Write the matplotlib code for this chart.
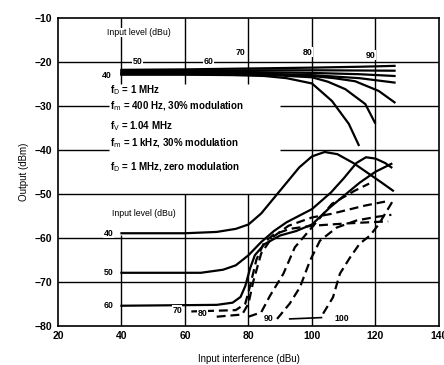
import matplotlib
matplotlib.use("Agg")
import matplotlib.pyplot as plt

plt.rcParams['font.family'] = ['Liberation Sans', 'DejaVu Sans']

# ---------------- data ----------------
x_ticks = [20, 40, 60, 80, 100, 120, 140]
y_ticks = [-10, -20, -30, -40, -50, -60, -70, -80]

# upper group (solid) : output vs interference
top_x1 = [40, 60, 80, 100, 115, 126]
top_y1 = [-21.8, -21.7, -21.5, -21.3, -21.1, -20.9]
top_x2 = [40, 60, 80, 100, 115, 126]
top_y2 = [-22.0, -22.0, -21.9, -21.9, -21.95, -22.0]
top_x3 = [40, 60, 80, 100, 115, 126]
top_y3 = [-22.3, -22.3, -22.3, -22.5, -22.8, -23.2]
top_x4 = [40, 60, 80, 100, 115, 126]
top_y4 = [-22.5, -22.5, -22.6, -23.0, -23.7, -24.7]
top_x5 = [40, 60, 80, 90, 100, 107, 113.6, 121, 126]
top_y5 = [-22.7, -22.7, -22.8, -22.9, -23.2, -23.7, -24.4, -26.6, -29.2]
top_x6 = [40, 60, 80, 90, 100, 105, 110.5, 116.8, 119.8]
top_y6 = [-22.8, -22.8, -22.9, -23.1, -23.5, -24.5, -26.2, -29.6, -33.8]
top_x7 = [40, 60, 75, 85, 92, 100, 106.3, 111.6, 114.7]
top_y7 = [-22.9, -22.9, -23.0, -23.2, -23.7, -24.9, -28.9, -34.1, -38.9]

# lower group (solid)
low_x40 = [40, 60, 70, 76, 80, 84, 88, 92, 96, 100, 104, 108, 113, 118, 122, 125.5]
low_y40 = [-59, -59, -58.7, -58, -57, -54.5, -51, -47.5, -44, -41.5, -40.5, -41, -43, -45.5, -47.5, -49.3]
low_x50 = [40, 65, 72, 76, 80, 84, 88, 92, 96, 100, 106, 110, 114, 117, 120, 123, 125]
low_y50 = [-68, -68, -67.3, -66.3, -64, -61, -58.5, -56.5, -55, -53.5, -49.7, -46.5, -43, -41.7, -42, -43, -44]
low_x60 = [40, 70, 75, 77.5, 79, 80.5, 82, 85, 90, 95, 100, 105.7, 110, 115, 120, 125]
low_y60 = [-75.5, -75.3, -74.8, -73.5, -71, -67, -64, -61.5, -59.5, -58.5, -57, -53.1, -50.5, -47.5, -45, -43.2]

# lower group (dashed)
dash_xa = [62, 76, 79, 80.5, 82.5, 85, 88, 93, 100, 110, 118, 124]
dash_ya = [-76.8, -76.5, -75, -71, -65, -61, -59.3, -58, -57.3, -56.8, -56.5, -56.3]
dash_xb = [70, 78, 80, 81.5, 84, 87.4, 92.6, 100, 106, 116.7, 123]
dash_yb = [-78, -77.5, -75, -70, -63.6, -60, -57.3, -55.4, -54.6, -52.7, -51.8]
dash_xc = [80, 84, 86.8, 91, 94.6, 101, 106.3, 113.5, 118]
dash_yc = [-78, -77, -73.2, -68.2, -62.2, -56.8, -52.3, -49.3, -47.7]
dash_xd = [89, 93, 96.2, 99.4, 102.5, 107.8, 114, 120, 125]
dash_yd = [-78.5, -75, -71.3, -65.2, -60.7, -57.7, -56.1, -55.3, -54.8]
dash_xe = [103.5, 106.6, 108.8, 112, 115, 118.3, 121, 123.5, 125.5]
dash_ye = [-77.3, -73.6, -68.2, -64.5, -61.4, -59.5, -57, -54, -51.6]
flat_x100 = [93, 103]
flat_y100 = [-78.5, -78.2]

cond_lines = [r"f$_\mathrm{D}$ = 1 MHz",
              r"f$_\mathrm{m}$ = 400 Hz, 30% modulation",
              r"f$_\mathrm{V}$ = 1.04 MHz",
              r"f$_\mathrm{m}$ = 1 kHz, 30% modulation",
              r"f$_\mathrm{D}$ = 1 MHz, zero modulation"]
cond_y = [-26.5, -30.0, -34.5, -38.5, -44.0]

top_labels = ["40", "50", "60", "70", "80", "90"]
top_label_x = [35.5, 45, 67.5, 77.5, 98.5, 118.5]
top_label_y = [-23.0, -19.8, -19.8, -17.8, -17.8, -18.5]

low_labels = ["40", "50", "60", "70", "80", "90", "100"]
low_label_x = [36, 36, 36, 57.5, 65.5, 86.5, 109.5]
low_label_y = [-59, -68, -75.5, -76.5, -77.3, -78.5, -78.3]

# ---------------- figure ----------------
fig = plt.figure(figsize=(4.44, 3.65), dpi=100)
ax = fig.add_axes([0.1306, 0.1082, 0.8581, 0.8425])
ax.set_xlim(20, 140)
ax.set_ylim(-80, -10)

gk = dict(color='black', lw=1.0, zorder=1)
# horizontal grid segments
ax.hlines(-20, 20, 140, **gk)
ax.hlines([-30, -40], 20, 36, **gk)
ax.hlines([-30, -40], 90, 140, **gk)
ax.hlines([-50, -60, -70], 20, 140, **gk)
# vertical grid segments
ax.vlines([40, 60, 80], -10, -25, **gk)
ax.vlines(40, -59.5, -80, **gk)
ax.vlines(60, -50, -80, **gk)
ax.vlines(80, -50, -80, **gk)
ax.vlines([100, 120], -10, -80, **gk)

for s in ax.spines.values():
    s.set_linewidth(1.2)

lw = 1.6
for xs, ys in [(top_x1, top_y1), (top_x2, top_y2), (top_x3, top_y3), (top_x4, top_y4),
               (top_x5, top_y5), (top_x6, top_y6), (top_x7, top_y7)]:
    ax.plot(xs, ys, color='black', lw=lw, zorder=3)
for xs, ys in [(low_x40, low_y40), (low_x50, low_y50), (low_x60, low_y60)]:
    ax.plot(xs, ys, color='black', lw=lw, zorder=3)
for xs, ys in [(dash_xa, dash_ya), (dash_xb, dash_yb), (dash_xc, dash_yc),
               (dash_xd, dash_yd), (dash_xe, dash_ye)]:
    ax.plot(xs, ys, color='black', lw=lw, ls=(0, (4, 2.2)), zorder=3)
ax.plot(flat_x100, flat_y100, color='black', lw=1.2, zorder=3)

fs = 7
for t, y in zip(cond_lines, cond_y):
    ax.text(36.5, y, t, fontsize=fs, va='center', ha='left', fontweight='bold')

ax.text(35.5, -13.3, "Input level (dBu)", fontsize=6.3, va='center', ha='left',
        bbox=dict(facecolor='white', edgecolor='none', pad=0.3), zorder=2)
ax.text(37, -54.5, "Input level (dBu)", fontsize=6.3, va='center', ha='left',
        bbox=dict(facecolor='white', edgecolor='none', pad=0.5), zorder=2)

for t, x, y in zip(top_labels, top_label_x, top_label_y):
    ax.text(x, y, t, fontsize=6.3, ha='center', va='center', fontweight='bold',
            bbox=dict(facecolor='white', edgecolor='none', pad=0.3), zorder=4)
for t, x, y in zip(low_labels, low_label_x, low_label_y):
    ax.text(x, y, t, fontsize=6.3, ha='center', va='center', fontweight='bold',
            bbox=dict(facecolor='white', edgecolor='none', pad=0.3), zorder=4)

ax.set_xticks(x_ticks)
ax.set_yticks(y_ticks)
ax.set_xticklabels([str(v) for v in x_ticks], fontweight='bold')
ax.set_yticklabels([("\u2212%d" % abs(v)) for v in y_ticks], fontweight='bold')
ax.tick_params(length=0, labelsize=7.5, pad=4)
ax.set_xlabel("Input interference (dBu)", fontsize=7, labelpad=9)
ax.set_ylabel("Output (dBm)", fontsize=7, labelpad=4)

fig.savefig("out.png", dpi=100)
